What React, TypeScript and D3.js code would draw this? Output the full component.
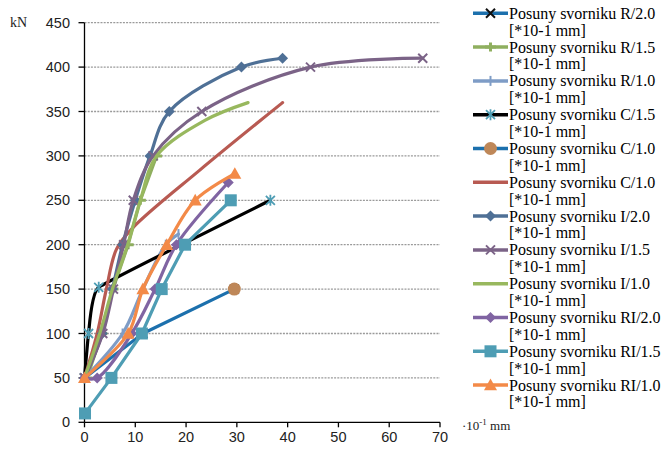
import React from "react";
import * as d3 from "d3";

const W = 661;
const H = 450;

const xTicks = [0, 10, 20, 30, 40, 50, 60, 70];
const yTicks = [0, 50, 100, 150, 200, 250, 300, 350, 400, 450];

const seriesNames = [
  "Posuny svorniku R/2.0",
  "Posuny svorniku R/1.5",
  "Posuny svorniku R/1.0",
  "Posuny svorniku C/1.5",
  "Posuny svorniku C/1.0",
  "Posuny svorniku C/1.0",
  "Posuny svorniku I/2.0",
  "Posuny svorniku I/1.5",
  "Posuny svorniku I/1.0",
  "Posuny svorniku RI/2.0",
  "Posuny svorniku RI/1.5",
  "Posuny svorniku RI/1.0",
];
const unitLine = "[*10-1 mm]";

// displacement [*10-1 mm] (x) and load kN (y)
const xR20 = [0, 11.5, 29.5];
const yR20 = [50, 100, 150];
const xR15 = [0.5, 3.4, 5.6, 8.6, 11, 14.2];
const yR15 = [50, 100, 150, 200, 250, 300];
const xR10 = [0, 7.5, 11.5, 16, 18.5];
const yR10 = [50, 100, 150, 200, 212];
const xC15 = [0, 0.8, 2.8, 36.6];
const yC15 = [50, 100, 152, 250];
const xC10a = [29.5];
const yC10a = [150];
const xC10b = [0, 2.5, 4.3, 6.3, 9.5, 22.7, 39];
const yC10b = [50, 100, 150, 195, 219, 284, 360];
const xI20 = [0, 3.5, 5.5, 7.5, 10, 12.9, 16.7, 30.9, 39];
const yI20 = [50, 100, 150, 200, 250, 300, 350, 400, 410];
const xI15 = [0, 3.6, 5.7, 7.7, 9.6, 13.5, 23.1, 44.5, 66.6];
const yI15 = [50, 100, 150, 200, 250, 300, 350, 400, 410];
const xI10 = [0, 3, 5.5, 8.5, 11, 14.2, 23.7, 32.2];
const yI10 = [50, 100, 150, 200, 250, 300, 340, 360];
const xRI20 = [0, 2.5, 9.3, 13.9, 18.1, 28.3];
const yRI20 = [50, 50, 100, 150, 200, 270];
const xRI15 = [0.1, 5.3, 11.3, 15.2, 19.8, 28.8];
const yRI15 = [10, 50, 100, 150, 200, 250];
const xRI10 = [0, 8.6, 11.5, 16.2, 21.8, 29.6];
const yRI10 = [50, 100, 150, 200, 250, 280];

type Marker = "x" | "plus" | "dash" | "asterisk" | "circle" | "none" | "diamond" | "square" | "triangle";
type CurveKind = "linear" | "smooth" | "tight";

const seriesX = [xR20, xR15, xR10, xC15, xC10a, xC10b, xI20, xI15, xI10, xRI20, xRI15, xRI10];
const seriesY = [yR20, yR15, yR10, yC15, yC10a, yC10b, yI20, yI15, yI10, yRI20, yRI15, yRI10];
const lineColors = ["#1C70AD", "#8FAF5F", "#7E9CC6", "#000000", "#1C70AD", "#B85A52", "#4F7096", "#7B6387", "#98B85E", "#8064A2", "#4E9DB4", "#F38A48"];
const markerColors = ["#111111", "#8FAF5F", "#7E9CC6", "#4E9DB4", "#BE8758", "none", "#4F7096", "#7B6387", "none", "#8064A2", "#4E9DB4", "#F38A48"];
const markers: Marker[] = ["x", "plus", "dash", "asterisk", "circle", "none", "diamond", "x", "none", "diamond", "square", "triangle"];
const curves: CurveKind[] = ["linear", "linear", "smooth", "tight", "linear", "smooth", "smooth", "smooth", "smooth", "smooth", "linear", "smooth"];

function curveOf(k: CurveKind) {
  if (k === "smooth") return d3.curveCatmullRom.alpha(0.5);
  if (k === "tight") return d3.curveCardinal.tension(0.75);
  return d3.curveLinear;
}

function MarkerShape({ type, color, cx, cy, size }: { type: Marker; color: string; cx: number; cy: number; size: number }) {
  const s = size / 2;
  switch (type) {
    case "x":
      return (
        <path d={`M${cx - s},${cy - s}L${cx + s},${cy + s}M${cx - s},${cy + s}L${cx + s},${cy - s}`} stroke={color} strokeWidth={2} fill="none" />
      );
    case "plus":
      return (
        <path d={`M${cx - s - 1},${cy}L${cx + s + 1},${cy}M${cx},${cy - s}L${cx},${cy + s}`} stroke={color} strokeWidth={3} fill="none" />
      );
    case "dash":
      return <path d={`M${cx},${cy - s}L${cx},${cy + s}`} stroke={color} strokeWidth={2} fill="none" />;
    case "asterisk":
      return (
        <path
          d={`M${cx - s},${cy - s}L${cx + s},${cy + s}M${cx - s},${cy + s}L${cx + s},${cy - s}M${cx},${cy - s - 1}L${cx},${cy + s + 1}`}
          stroke={color}
          strokeWidth={1.8}
          fill="none"
        />
      );
    case "circle":
      return <circle cx={cx} cy={cy} r={s} fill={color} />;
    case "diamond":
      return <path d={`M${cx},${cy - s}L${cx + s},${cy}L${cx},${cy + s}L${cx - s},${cy}Z`} fill={color} />;
    case "square":
      return <rect x={cx - s} y={cy - s} width={size} height={size} fill={color} />;
    case "triangle":
      return <path d={`M${cx},${cy - s}L${cx + s},${cy + s * 0.8}L${cx - s},${cy + s * 0.8}Z`} fill={color} />;
    default:
      return null;
  }
}

const markerSizes: Record<Marker, number> = {
  x: 9,
  plus: 9,
  dash: 10,
  asterisk: 9,
  circle: 13,
  none: 0,
  diamond: 11,
  square: 12,
  triangle: 13,
};

export default function App() {
  const left = 84.5;
  const right = 440;
  const top = 22.7;
  const bottom = 422.3;
  const x = d3.scaleLinear().domain([0, 70]).range([left, right]);
  const y = d3.scaleLinear().domain([0, 450]).range([bottom, top]);

  const legendX0 = 473;
  const legendX1 = 508;
  const legendTextX = 509;
  const legendY0 = 13.3;
  const legendStep = 33.8;
  const serif = "Liberation Serif, Times New Roman, serif";

  return (
    <svg width={W} height={H} style={{ position: "absolute", left: 0, top: 0, background: "#fff" }}>
      {/* grid */}
      {yTicks
        .filter((t) => t > 0)
        .map((t) => (
          <line key={"g" + t} x1={left} x2={right} y1={y(t)} y2={y(t)} stroke="#9a9a9a" strokeWidth={1.3} strokeDasharray="2 1.2" />
        ))}
      {/* axes */}
      <line x1={left} x2={left} y1={top} y2={bottom} stroke="#000" strokeWidth={1.3} />
      <line x1={left} x2={right} y1={bottom} y2={bottom} stroke="#000" strokeWidth={1.3} />
      {yTicks.map((t) => (
        <g key={"y" + t}>
          <line x1={left - 6} x2={left} y1={y(t)} y2={y(t)} stroke="#000" strokeWidth={1.3} />
          <text x={70} y={y(t) + 5} textAnchor="end" fontFamily="Liberation Sans, Arial, sans-serif" fontSize={14.5} fill="#222">
            {t}
          </text>
        </g>
      ))}
      {xTicks.map((t) => (
        <g key={"x" + t}>
          <line x1={x(t)} x2={x(t)} y1={bottom} y2={bottom + 5} stroke="#000" strokeWidth={1.3} />
          <text x={x(t)} y={bottom + 19.5} textAnchor="middle" fontFamily="Liberation Sans, Arial, sans-serif" fontSize={14.5} fill="#222">
            {t}
          </text>
        </g>
      ))}
      <text x={10} y={27} fontFamily={serif} fontSize={14} fill="#222">
        kN
      </text>
      <text x={462} y={430} fontFamily={serif} fontSize={13} fill="#222">
        ·10
        <tspan dy={-5} fontSize={9}>
          -1
        </tspan>
        <tspan dy={5}> mm</tspan>
      </text>

      {/* series */}
      {seriesX.map((xs, i) => {
        const pts: [number, number][] = xs.map((v, j) => [v, seriesY[i][j]]);
        const gen = d3
          .line<[number, number]>()
          .x((d) => x(d[0]))
          .y((d) => y(d[1]))
          .curve(curveOf(curves[i]));
        return (
          <g key={"s" + i}>
            {pts.length > 1 && (
              <path d={gen(pts) || ""} fill="none" stroke={lineColors[i]} strokeWidth={3.2} strokeLinejoin="round" strokeLinecap="round" />
            )}
            {markers[i] !== "none" &&
              pts.map((p, j) => (
                <MarkerShape key={j} type={markers[i]} color={markerColors[i]} cx={x(p[0])} cy={y(p[1])} size={markerSizes[markers[i]]} />
              ))}
          </g>
        );
      })}

      {/* legend */}
      {seriesNames.map((name, i) => {
        const cy = legendY0 + legendStep * i;
        return (
          <g key={"l" + i}>
            <line x1={legendX0} x2={legendX1} y1={cy} y2={cy} stroke={lineColors[i]} strokeWidth={3.5} />
            {markers[i] !== "none" && (
              <MarkerShape type={markers[i]} color={markerColors[i]} cx={(legendX0 + legendX1) / 2} cy={cy} size={markerSizes[markers[i]]} />
            )}
            <text x={legendTextX} y={cy + 5.5} fontFamily={serif} fontSize={16} fill="#000">
              {name}
            </text>
            <text x={legendTextX} y={cy + 5.5 + 16.7} fontFamily={serif} fontSize={16} fill="#000">
              {unitLine}
            </text>
          </g>
        );
      })}
    </svg>
  );
}
